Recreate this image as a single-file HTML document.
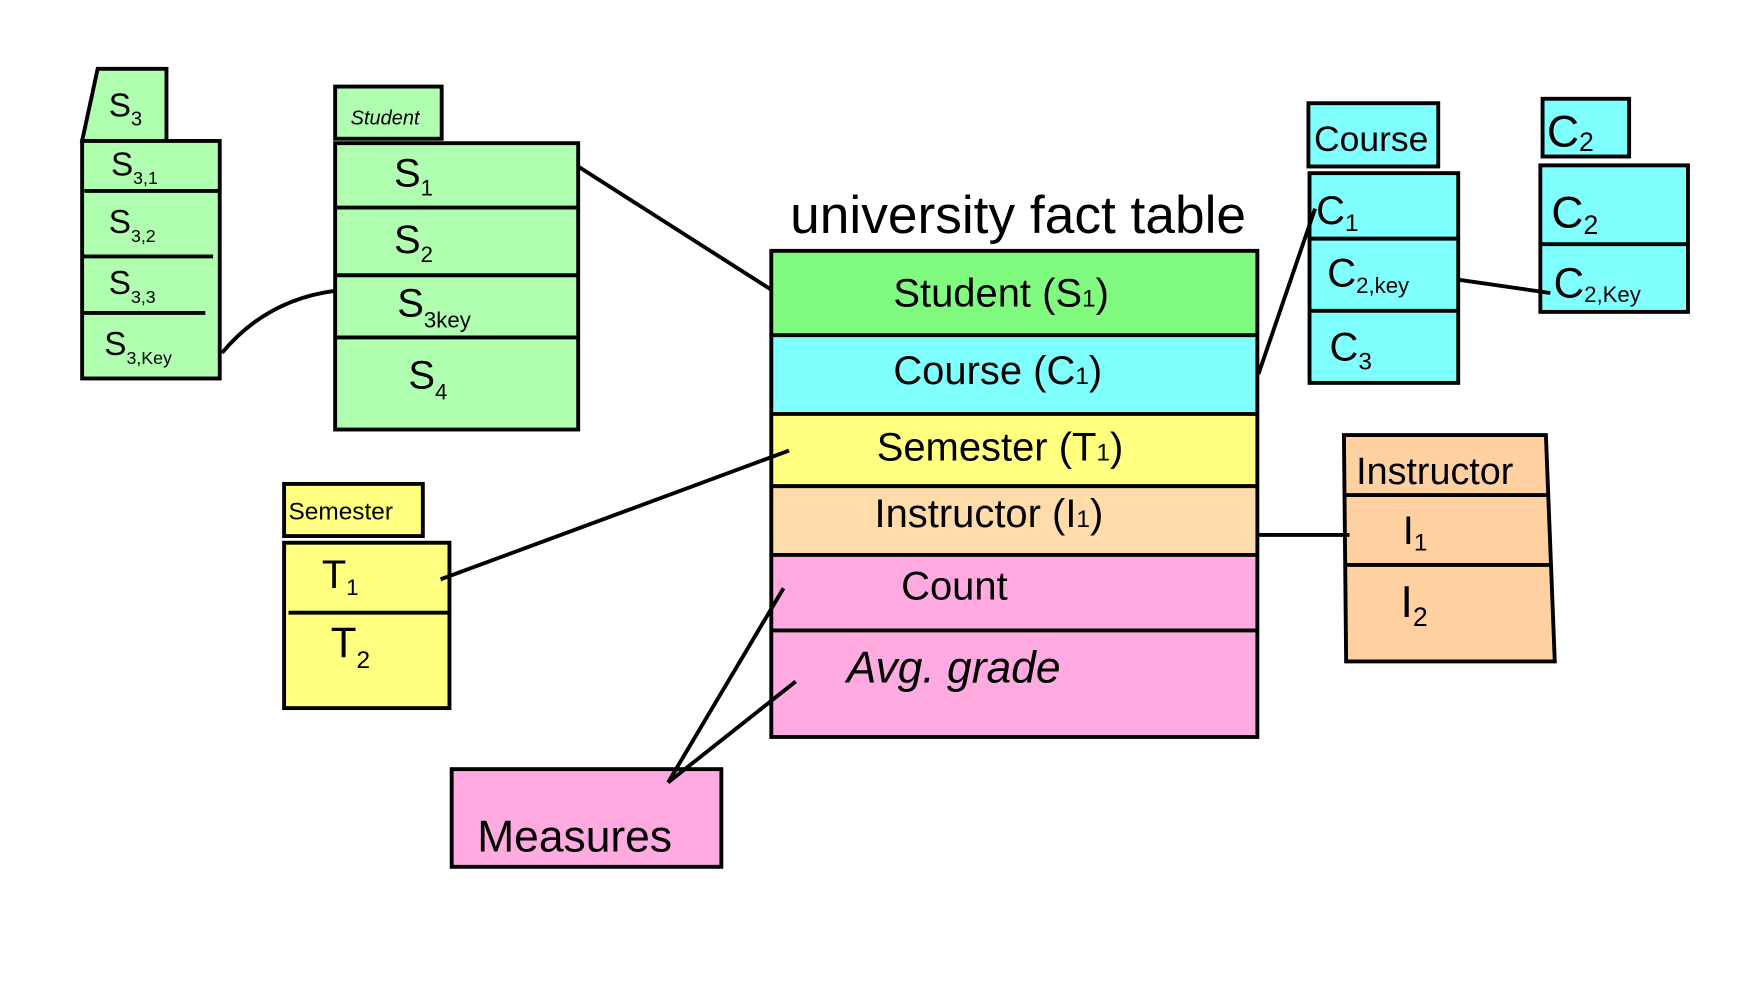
<!DOCTYPE html>
<html><head><meta charset="utf-8"><style>
html,body{margin:0;padding:0;background:#fff;width:1739px;height:1000px;overflow:hidden}
text{font-family:"Liberation Sans",sans-serif;fill:#000}
</style></head><body>
<svg width="1739" height="1000" viewBox="0 0 1567 901" preserveAspectRatio="none" xmlns="http://www.w3.org/2000/svg">
<g stroke="#000" stroke-width="3.5" fill="none">
<polygon points="88,62 150,62 150,127 74,127" fill="#b0ffb0"/>
<rect x="74" y="127" width="124" height="214" fill="#b0ffb0"/>
<line x1="76" y1="172" x2="198" y2="172"/>
<line x1="74" y1="231" x2="192" y2="231"/>
<line x1="74" y1="282" x2="185" y2="282"/>
<rect x="302" y="78" width="96" height="47" fill="#b0ffb0"/>
<rect x="302" y="129" width="219" height="258" fill="#b0ffb0"/>
<line x1="302" y1="187" x2="521" y2="187"/>
<line x1="302" y1="248" x2="521" y2="248"/>
<line x1="302" y1="304" x2="521" y2="304"/>
<path d="M200,318 Q240,270 302,262"/>
<line x1="521" y1="150" x2="698" y2="263"/>
<rect x="695" y="226" width="438" height="76" fill="#80fb80" stroke="none"/>
<rect x="695" y="302" width="438" height="71" fill="#80ffff" stroke="none"/>
<rect x="695" y="373" width="438" height="65" fill="#ffff80" stroke="none"/>
<rect x="695" y="438" width="438" height="62" fill="#ffdcaa" stroke="none"/>
<rect x="695" y="500" width="438" height="164" fill="#ffaae0" stroke="none"/>
<rect x="695" y="226" width="438" height="438"/>
<line x1="695" y1="302" x2="1133" y2="302"/>
<line x1="695" y1="373" x2="1133" y2="373"/>
<line x1="695" y1="438" x2="1133" y2="438"/>
<line x1="695" y1="500" x2="1133" y2="500"/>
<line x1="695" y1="568" x2="1133" y2="568"/>
<rect x="1179" y="93" width="117" height="57" fill="#80ffff"/>
<rect x="1180" y="156" width="134" height="189" fill="#80ffff"/>
<line x1="1180" y1="215" x2="1314" y2="215"/>
<line x1="1180" y1="280" x2="1314" y2="280"/>
<rect x="1390" y="89" width="78" height="52" fill="#80ffff"/>
<rect x="1388" y="149" width="133" height="132" fill="#80ffff"/>
<line x1="1388" y1="220" x2="1521" y2="220"/>
<line x1="1134" y1="337" x2="1185" y2="188"/>
<line x1="1314" y1="252" x2="1397" y2="264"/>
<polygon points="1211,392 1393,392 1401,596 1213,596" fill="#ffd0a0"/>
<line x1="1211" y1="446" x2="1395" y2="446"/>
<line x1="1212" y1="509" x2="1397" y2="509"/>
<line x1="1133" y1="482" x2="1216" y2="482"/>
<rect x="256" y="436" width="125" height="47" fill="#ffff80"/>
<rect x="256" y="489" width="149" height="149" fill="#ffff80"/>
<line x1="260" y1="552" x2="405" y2="552"/>
<line x1="397" y1="522" x2="711" y2="406"/>
<rect x="407" y="693" width="243" height="88" fill="#ffaae0"/>
<line x1="602" y1="705" x2="706" y2="530"/>
<line x1="602" y1="705" x2="717" y2="614"/>
</g>
<g font-size="30">
<text x="98" y="105">S<tspan font-size="18" dy="8">3</tspan></text>
<text x="100" y="158">S<tspan font-size="16" dy="8">3,1</tspan></text>
<text x="98" y="210">S<tspan font-size="16" dy="8">3,2</tspan></text>
<text x="98" y="265">S<tspan font-size="16" dy="8">3,3</tspan></text>
<text x="94" y="320">S<tspan font-size="16" dy="8">3,Key</tspan></text>
<text x="316" y="112" font-size="18" font-style="italic">Student</text>
<text x="355" y="168" font-size="36">S<tspan font-size="20" dy="8">1</tspan></text>
<text x="355" y="228" font-size="36">S<tspan font-size="20" dy="8">2</tspan></text>
<text x="358" y="285" font-size="36">S<tspan font-size="20" dy="10">3key</tspan></text>
<text x="368" y="350" font-size="36">S<tspan font-size="20" dy="10">4</tspan></text>
<text x="712" y="210" font-size="48">university fact table</text>
<text x="805" y="276" font-size="36">Student (S<tspan font-size="22">1</tspan>)</text>
<text x="805" y="346" font-size="36">Course  (C<tspan font-size="22">1</tspan>)</text>
<text x="790" y="415" font-size="36">Semester  (T<tspan font-size="22">1</tspan>)</text>
<text x="788" y="475" font-size="36">Instructor (I<tspan font-size="22">1</tspan>)</text>
<text x="812" y="540" font-size="36">Count</text>
<text x="763" y="615" font-size="40" font-style="italic">Avg. grade</text>
<text x="1184" y="136" font-size="32">Course</text>
<text x="1186" y="202" font-size="36">C<tspan font-size="22" dy="6">1</tspan></text>
<text x="1196" y="258" font-size="36">C<tspan font-size="20" dy="6">2,key</tspan></text>
<text x="1198" y="325" font-size="36">C<tspan font-size="22" dy="8">3</tspan></text>
<text x="1394" y="132" font-size="40">C<tspan font-size="24" dy="4">2</tspan></text>
<text x="1398" y="205" font-size="40">C<tspan font-size="24" dy="6">2</tspan></text>
<text x="1400" y="268" font-size="38">C<tspan font-size="20" dy="4">2,Key</tspan></text>
<text x="1222" y="436" font-size="34">Instructor</text>
<text x="1264" y="490" font-size="36">I<tspan font-size="22" dy="6">1</tspan></text>
<text x="1262" y="556" font-size="40">I<tspan font-size="24" dy="8">2</tspan></text>
<text x="260" y="468" font-size="22">Semester</text>
<text x="290" y="530" font-size="36">T<tspan font-size="20" dy="6">1</tspan></text>
<text x="298" y="592" font-size="38">T<tspan font-size="22" dy="10">2</tspan></text>
<text x="430" y="767" font-size="40">Measures</text>
</g>
</svg>
</body></html>
